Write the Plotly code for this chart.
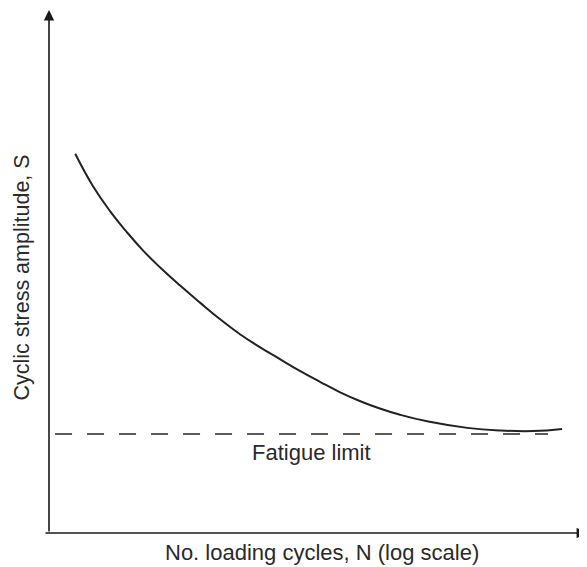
import plotly.graph_objects as go

# S-N curve (x: log10 N, arbitrary units; y: stress amplitude S, arbitrary units)
log_n = [0.39, 0.65, 0.91, 1.16, 1.40, 1.65, 1.95, 2.25, 2.54, 2.84, 3.14, 3.44,
         3.73, 4.03, 4.33, 4.63, 4.92, 5.22, 5.64, 6.22, 6.71, 7.20, 7.63]
stress = [72.5, 66.4, 61.5, 57.5, 54.0, 50.8, 47.3, 44.0, 40.9, 38.0, 35.5, 33.2,
          31.0, 28.9, 26.9, 25.2, 23.8, 22.6, 21.3, 20.1, 19.6, 19.5, 19.9]

fatigue_x = [0.09, 7.42]
fatigue_limit = 18.95

x_title = "No. loading cycles, N (log scale)"
y_title = "Cyclic stress amplitude, S"
limit_label = "Fatigue limit"

XR = [0, 8]
YR = [0, 100]

font_family = "Liberation Sans, Arial, sans-serif"
text_color = "#2a2a2a"

fig = go.Figure()

fig.add_trace(go.Scatter(
    x=fatigue_x, y=[fatigue_limit, fatigue_limit], mode="lines",
    line=dict(color="#5a5a5a", width=2, dash="17px,15px"),
    hoverinfo="skip", showlegend=False,
))

fig.add_trace(go.Scatter(
    x=log_n, y=stress, mode="lines",
    line=dict(color="#222222", width=2, shape="spline", smoothing=1.3),
    hoverinfo="skip", showlegend=False,
))

# axis arrows
fig.add_annotation(x=XR[0], y=YR[1], ax=XR[0], ay=YR[0],
                   xref="x", yref="y", axref="x", ayref="y",
                   showarrow=True, arrowhead=2, arrowsize=1.3, arrowwidth=1.6,
                   arrowcolor="#1a1a1a", text="")
fig.add_annotation(x=XR[1], y=YR[0], ax=XR[0] - 0.075, ay=YR[0],
                   xref="x", yref="y", axref="x", ayref="y",
                   showarrow=True, arrowhead=2, arrowsize=1.3, arrowwidth=1.6,
                   arrowcolor="#1a1a1a", text="")

# texts
fig.add_annotation(x=0.5074, y=-0.038, xref="paper", yref="paper", text=x_title,
                   showarrow=False, xanchor="center", yanchor="middle",
                   font=dict(family=font_family, size=22, color=text_color))
fig.add_annotation(x=-0.0502, y=0.4885, xref="paper", yref="paper", text=y_title,
                   showarrow=False, textangle=-90, xanchor="center", yanchor="middle",
                   font=dict(family=font_family, size=21.5, color=text_color))
fig.add_annotation(x=3.91, y=15.3, xref="x", yref="y", text=limit_label, showarrow=False,
                   font=dict(family=font_family, size=22, color=text_color))

# page body has an 8px default margin, so the figure is 8px smaller on each axis
fig.update_layout(
    width=579, height=559,
    margin=dict(l=41, r=0, t=2, b=34),
    paper_bgcolor="white", plot_bgcolor="white",
    xaxis=dict(range=XR, visible=False, fixedrange=True),
    yaxis=dict(range=YR, visible=False, fixedrange=True),
    showlegend=False,
)

fig.write_html("out.html")
